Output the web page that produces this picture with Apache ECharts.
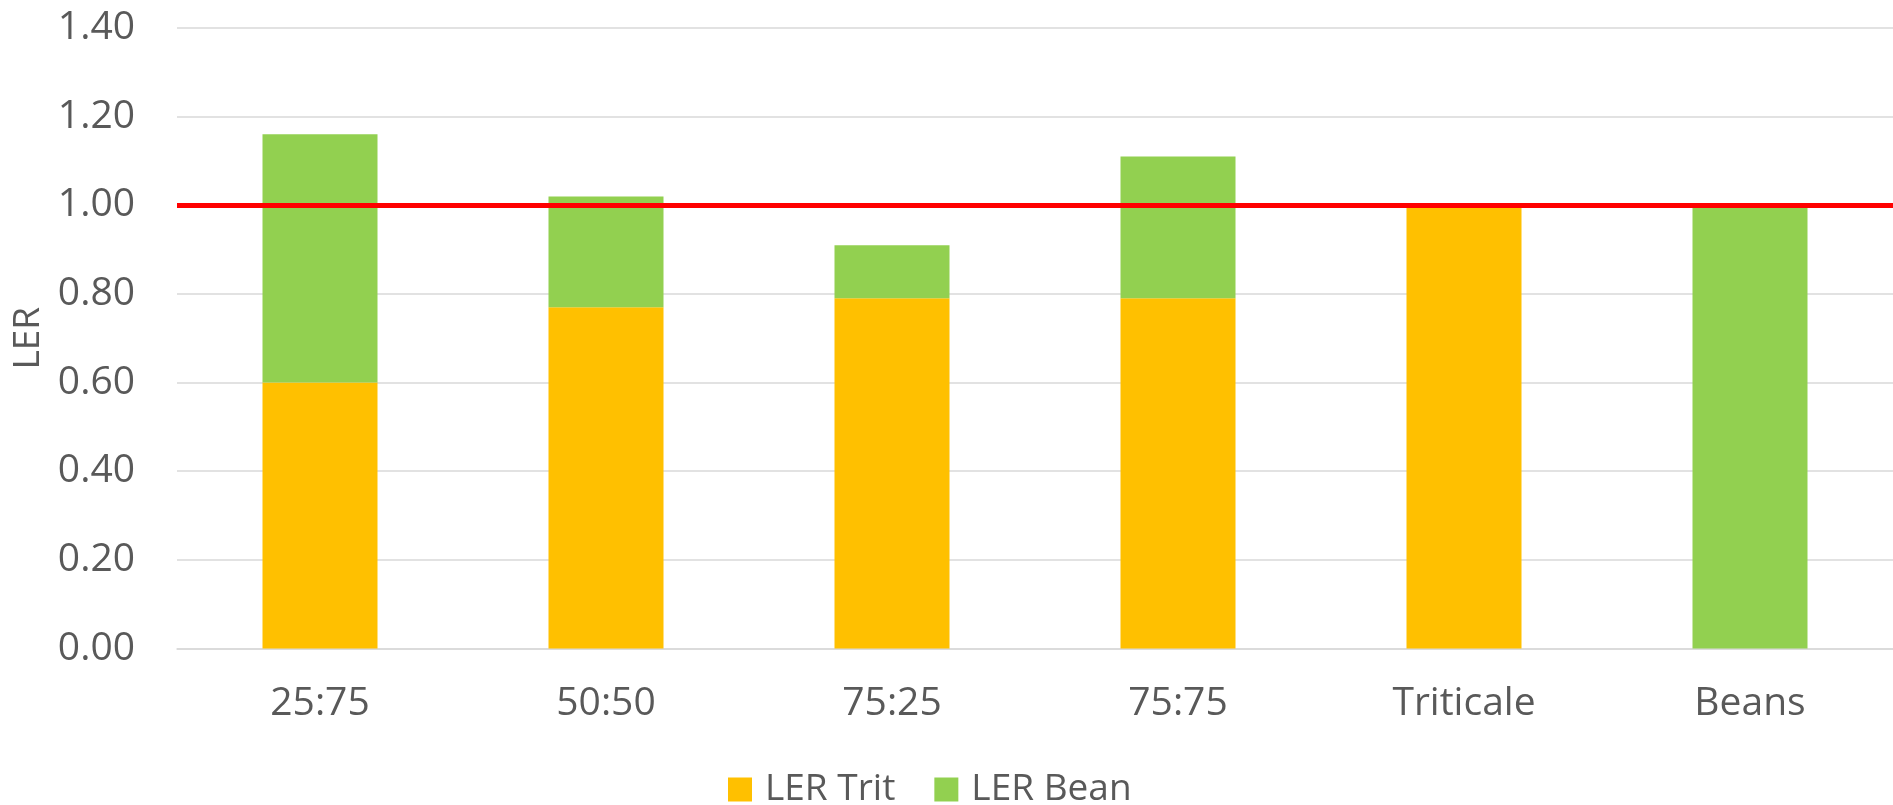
<!DOCTYPE html>
<html>
<head>
<meta charset="utf-8">
<script src="https://cdn.jsdelivr.net/npm/echarts@6/dist/echarts.min.js"></script>
<style>
html,body{margin:0;padding:0;background:#fff;}
#main{width:1893px;height:805px;}
</style>
</head>
<body>
<div id="main"></div>
<script>
var categories = ['25:75', '50:50', '75:25', '75:75', 'Triticale', 'Beans'];
var lerTrit = [0.60, 0.77, 0.79, 0.79, 1.00, 0];
var lerBean = [0.56, 0.25, 0.12, 0.32, 0, 1.00];
var yTicks = [0, 0.2, 0.4, 0.6, 0.8, 1.0, 1.2, 1.4];
var refLine = 1.0;

var FONT = '"Open Sans", "Liberation Sans", sans-serif';
var chart = echarts.init(document.getElementById('main'), null, {renderer: 'canvas'});
chart.setOption({
  animation: false,
  backgroundColor: '#ffffff',
  grid: {left: 177, top: 28, width: 1723, bottom: 156.5, containLabel: false},
  legend: {
    left: 728, top: 771, padding: 0,
    itemWidth: 24, itemHeight: 24, itemGap: 39,
    icon: 'rect',
    textStyle: {fontFamily: FONT, fontSize: 37, color: '#595959', padding: [0, 0, 0, 8]},
    data: ['LER Trit', 'LER Bean']
  },
  xAxis: {
    type: 'category',
    data: categories,
    axisLine: {show: true, lineStyle: {color: '#d9d9d9', width: 1.5}},
    axisTick: {show: false},
    axisLabel: {fontFamily: FONT, fontSize: 39, color: '#595959', margin: 36}
  },
  yAxis: {
    type: 'value',
    min: yTicks[0], max: yTicks[yTicks.length - 1], interval: 0.2,
    name: 'LER', nameLocation: 'middle', nameGap: 130, nameRotate: 90,
    nameTextStyle: {fontFamily: FONT, fontSize: 37, color: '#595959'},
    axisLine: {show: false}, axisTick: {show: false},
    axisLabel: {fontFamily: FONT, fontSize: 39, color: '#595959', margin: 42,
      formatter: function (v) { return v.toFixed(2); }},
    splitLine: {lineStyle: {color: '#d9d9d9', width: 1.5}}
  },
  series: [
    {name: 'LER Trit', type: 'bar', stack: 'ler', data: lerTrit, barWidth: 115,
      itemStyle: {color: '#FFC000'}},
    {name: 'LER Bean', type: 'bar', stack: 'ler', data: lerBean, barWidth: 115,
      itemStyle: {color: '#92D050'},
      markLine: {
        silent: true, symbol: 'none', label: {show: false},
        lineStyle: {color: '#FF0000', width: 5, type: 'solid'},
        data: [{yAxis: refLine}]
      }}
  ]
});
</script>
</body>
</html>
